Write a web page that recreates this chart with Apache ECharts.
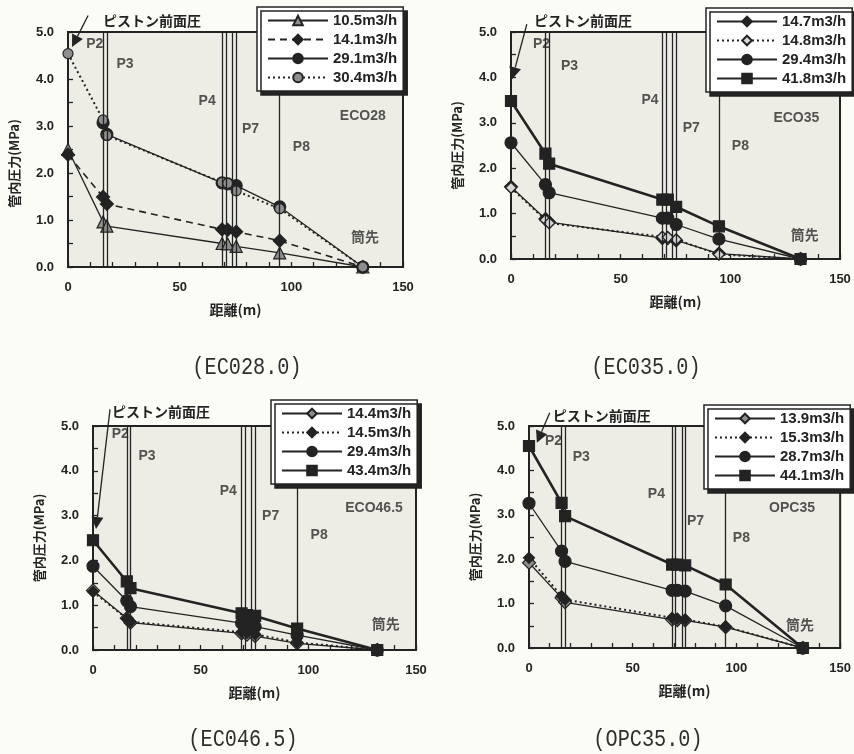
<!DOCTYPE html>
<html>
<head>
<meta charset="utf-8">
<script src="https://cdn.jsdelivr.net/npm/echarts@6/dist/echarts.min.js"></script>
<style>
  html, body { margin: 0; padding: 0; background: #fcfcf7; }
  #chart { width: 854px; height: 754px; }
</style>
</head>
<body>
<div id="chart"></div>
<script>
// Gauge positions along the pipeline (m)
const distances = [0, 15.7, 17.4, 69, 71.5, 75.3, 94.8, 132];
// Pipe section boundaries drawn as vertical lines (m)
const sectionLines = [15.7, 17.4, 69, 70.7, 73.7, 75.3, 94.8];
const yTickLabels = ['0.0', '1.0', '2.0', '3.0', '4.0', '5.0'];
const xTickLabels = ['0', '50', '100', '150'];

// ECO28 — pressure in pipe (MPa)
const eco28Names = ['10.5m3/h', '14.1m3/h', '29.1m3/h', '30.4m3/h'];
const eco28_105 = [2.50, 0.96, 0.87, 0.50, 0.49, 0.44, 0.30, 0];
const eco28_141 = [2.39, 1.49, 1.34, 0.80, 0.79, 0.75, 0.56, 0];
const eco28_291 = [null, 3.07, 2.82, 1.79, 1.77, 1.73, 1.28, 0];
const eco28_304 = [4.54, 3.13, 2.80, 1.80, 1.78, 1.62, 1.24, 0];

// ECO35
const eco35Names = ['14.7m3/h', '14.8m3/h', '29.4m3/h', '41.8m3/h'];
const eco35_147 = [1.59, 0.88, 0.81, 0.46, 0.46, 0.41, 0.12, 0];
const eco35_148 = [1.57, 0.86, 0.79, 0.49, 0.48, 0.43, 0.10, 0];
const eco35_294 = [2.56, 1.64, 1.46, 0.90, 0.90, 0.76, 0.44, 0];
const eco35_418 = [3.48, 2.32, 2.10, 1.31, 1.31, 1.15, 0.72, 0];

// ECO46.5
const eco465Names = ['14.4m3/h', '14.5m3/h', '29.4m3/h', '43.4m3/h'];
const eco465_144 = [1.33, 0.71, 0.61, 0.37, 0.34, 0.31, 0.15, 0];
const eco465_145 = [1.30, 0.70, 0.63, 0.40, 0.38, 0.35, 0.17, 0];
const eco465_294 = [1.87, 1.10, 0.97, 0.60, 0.56, 0.52, 0.33, 0];
const eco465_434 = [2.45, 1.53, 1.38, 0.82, 0.78, 0.76, 0.48, 0];

// OPC35
const opc35Names = ['13.9m3/h', '15.3m3/h', '28.7m3/h', '44.1m3/h'];
const opc35_139 = [1.92, 1.13, 1.03, 0.64, 0.63, 0.62, 0.47, 0];
const opc35_153 = [2.03, 1.17, 1.09, 0.68, 0.66, 0.64, 0.48, 0];
const opc35_287 = [3.26, 2.18, 1.95, 1.30, 1.30, 1.28, 0.95, 0];
const opc35_441 = [4.55, 3.27, 2.97, 1.88, 1.88, 1.86, 1.43, 0];

// Section labels inside each plot: [x, y, text]
const eco28Labels = [[12, 4.75, 'P2'], [25.5, 4.32, 'P3'], [62.3, 3.53, 'P4'], [81.7, 2.93, 'P7'], [104.5, 2.54, 'P8'], [132, 3.2, 'ECO28'], [133, 0.61, '筒先']];
const eco35Labels = [[13.9, 4.73, 'P2'], [26.7, 4.25, 'P3'], [63.4, 3.51, 'P4'], [82.2, 2.89, 'P7'], [104.6, 2.49, 'P8'], [130.1, 3.11, 'ECO35'], [133.9, 0.5, '筒先']];
const eco465Labels = [[12.7, 4.81, 'P2'], [25.1, 4.33, 'P3'], [62.8, 3.54, 'P4'], [82.5, 2.99, 'P7'], [105, 2.57, 'P8'], [130.5, 3.17, 'ECO46.5'], [136, 0.56, '筒先']];
const opc35Labels = [[11.8, 4.66, 'P2'], [25.2, 4.29, 'P3'], [61.4, 3.46, 'P4'], [80.3, 2.86, 'P7'], [102.4, 2.48, 'P8'], [126.8, 3.16, 'OPC35'], [130.7, 0.49, '筒先']];

// "ピストン前面圧" callout: arrow from / to, text anchor (data coords)
const pistonArrowFrom = [[9, 5.35], [7.2, 5.17], [7.9, 5.37], [10, 5.3]];
const pistonArrowTo = [[1.8, 4.68], [0.5, 3.96], [1.4, 2.70], [3.8, 4.62]];
const pistonTextAt = [[15.7, 5.24], [10.5, 5.24], [8.8, 5.32], [11.4, 5.23]];
const pistonText = 'ピストン前面圧';
const captions = ['(EC028.0)', '(EC035.0)', '(EC046.5)', '(OPC35.0)'];

const DARK = '#232323';
const GREY = '#8e8e8e';
const LIGHT = '#d8d8d8';
const SANS = '"Liberation Sans", Arial, sans-serif';
const JP = '"Noto Sans CJK JP", sans-serif';

// marker + line look for each series kind
const looks = {
  triGrey:   { symbol: 'triangle', fill: GREY, size: 12, line: 'solid', width: 1.3 },
  diaDash:   { symbol: 'diamond', fill: DARK, size: 13, line: [7, 5], width: 1.6 },
  dotSolid:  { symbol: 'circle', fill: DARK, size: 12, line: 'solid', width: 1.3 },
  dotGreyDotted: { symbol: 'circle', fill: GREY, size: 10, line: [2, 3], width: 2 },
  diaSolid:  { symbol: 'diamond', fill: DARK, size: 13, line: 'solid', width: 1.3 },
  diaLightDotted: { symbol: 'diamond', fill: LIGHT, size: 11, line: [2, 3], width: 2 },
  diaGreySolid: { symbol: 'diamond', fill: GREY, size: 13, line: 'solid', width: 1.3 },
  diaDarkDotted: { symbol: 'diamond', fill: DARK, size: 11, line: [2, 3], width: 2 },
  sqThick:   { symbol: 'rect', fill: DARK, size: 11, line: 'solid', width: 2.6 }
};

const panels = [
  { names: eco28Names, values: [eco28_105, eco28_141, eco28_291, eco28_304],
    kinds: ['triGrey', 'diaDash', 'dotSolid', 'dotGreyDotted'], labels: eco28Labels,
    grid: { left: 68, top: 32, width: 335, height: 235 }, legend: { left: 257, top: 7 },
    yNamePad: [0, 28, 0, 0], caption: [247, 368] },
  { names: eco35Names, values: [eco35_147, eco35_148, eco35_294, eco35_418],
    kinds: ['diaSolid', 'diaLightDotted', 'dotSolid', 'sqThick'], labels: eco35Labels,
    grid: { left: 511, top: 32, width: 329, height: 227 }, legend: { left: 706, top: 8 },
    yNamePad: [0, 0, 0, 0], caption: [646, 368] },
  { names: eco465Names, values: [eco465_144, eco465_145, eco465_294, eco465_434],
    kinds: ['diaGreySolid', 'diaDarkDotted', 'dotSolid', 'sqThick'], labels: eco465Labels,
    grid: { left: 93, top: 426, width: 323, height: 224 }, legend: { left: 271, top: 400 },
    yNamePad: [0, 0, 0, 0], caption: [243, 740] },
  { names: opc35Names, values: [opc35_139, opc35_153, opc35_287, opc35_441],
    kinds: ['diaGreySolid', 'diaDarkDotted', 'dotSolid', 'sqThick'], labels: opc35Labels,
    grid: { left: 529, top: 426, width: 315, height: 222 }, legend: { left: 704, top: 405 },
    yNamePad: [0, 0, 0, 0], caption: [648, 740] }
];

const option = {
  animation: false,
  backgroundColor: '#fcfcf7',
  grid: [], xAxis: [], yAxis: [], legend: [], series: []
};

panels.forEach((p, i) => {
  option.grid.push(Object.assign({
    show: true, backgroundColor: '#eeede5', borderColor: DARK, borderWidth: 2
  }, p.grid));

  option.xAxis.push({
    gridIndex: i, type: 'value', min: 0, max: 150, interval: 50,
    name: '距離(m)', nameLocation: 'middle', nameGap: 36,
    nameTextStyle: { fontFamily: JP, fontWeight: 'bold', fontSize: 14, color: DARK },
    axisLine: { lineStyle: { color: DARK, width: 2 } },
    axisTick: { show: true, inside: true, length: 5, lineStyle: { color: DARK, width: 1.3 } },
    minorTick: { show: true, splitNumber: 5, length: 5, lineStyle: { color: DARK, width: 1.3 } },
    splitLine: { show: false },
    axisLabel: {
      margin: 14, fontFamily: SANS, fontWeight: 'bold', fontSize: 13, color: DARK,
      formatter: v => xTickLabels[Math.round(v / 50)]
    }
  });

  option.yAxis.push({
    gridIndex: i, type: 'value', min: 0, max: 5, interval: 1,
    name: '管内圧力(MPa)', nameLocation: 'middle', nameGap: 47,
    nameTextStyle: { fontFamily: JP, fontWeight: 'bold', fontSize: 13, color: DARK, padding: p.yNamePad },
    axisLine: { lineStyle: { color: DARK, width: 2 } },
    axisTick: { show: true, inside: true, length: 5, lineStyle: { color: DARK, width: 1.3 } },
    minorTick: { show: true, splitNumber: 2, length: 5, lineStyle: { color: DARK, width: 1.3 } },
    splitLine: { show: false },
    axisLabel: {
      margin: 14, fontFamily: SANS, fontWeight: 'bold', fontSize: 13, color: DARK,
      formatter: v => yTickLabels[Math.round(v)]
    }
  });

  option.legend.push({
    orient: 'vertical', left: p.legend.left, top: p.legend.top,
    data: p.names, selectedMode: false,
    itemWidth: 60, itemHeight: 12, itemGap: 4,
    padding: [6, 6, 6, 10],
    backgroundColor: '#ffffff', borderColor: DARK, borderWidth: 1.5,
    shadowColor: DARK, shadowBlur: 0, shadowOffsetX: 4, shadowOffsetY: 4,
    textStyle: { fontFamily: SANS, fontWeight: 'bold', fontSize: 15, color: DARK },
    z: 10
  });

  // Section labels and boundary lines
  option.series.push({
    type: 'scatter', xAxisIndex: i, yAxisIndex: i, silent: true, z: 3,
    symbolSize: 0,
    data: p.labels.map(l => ({ value: [l[0], l[1]], name: l[2] })),
    label: {
      show: true, position: 'inside', formatter: '{b}',
      fontFamily: SANS + ', ' + JP, fontWeight: 'bold', fontSize: 14, color: '#2a2a2a'
    },
    markLine: {
      silent: true, symbol: ['none', 'none'], label: { show: false },
      lineStyle: { color: DARK, width: 1.3, type: 'solid' },
      emphasis: { disabled: true },
      data: sectionLines.map(v => ({ xAxis: v }))
    }
  });

  p.names.forEach((name, k) => {
    const look = looks[p.kinds[k]];
    const pts = [];
    p.values[k].forEach((v, j) => { if (v !== null) pts.push([distances[j], v]); });
    option.series.push({
      type: 'line', name: name, xAxisIndex: i, yAxisIndex: i, z: 4,
      data: pts,
      symbol: look.symbol, symbolSize: look.size,
      itemStyle: { color: look.fill, borderColor: DARK, borderWidth: 1.2 },
      lineStyle: { color: DARK, width: look.width, type: look.line },
      emphasis: { disabled: true }
    });
  });
});

const chart = echarts.init(document.getElementById('chart'));
chart.setOption(option);

// Callout arrows, callout text and captions placed through each grid's scales
const graphics = [];
panels.forEach((p, i) => {
  const s = chart.convertToPixel({ gridIndex: i }, pistonArrowFrom[i]);
  const e = chart.convertToPixel({ gridIndex: i }, pistonArrowTo[i]);
  const t = chart.convertToPixel({ gridIndex: i }, pistonTextAt[i]);
  const dx = e[0] - s[0], dy = e[1] - s[1];
  const len = Math.sqrt(dx * dx + dy * dy);
  const ux = dx / len, uy = dy / len;
  const head = 12, half = 6;
  const bx = e[0] - ux * head, by = e[1] - uy * head;
  graphics.push({
    type: 'line', z: 20, silent: true,
    shape: { x1: s[0], y1: s[1], x2: bx, y2: by },
    style: { stroke: DARK, lineWidth: 1.3 }
  });
  graphics.push({
    type: 'polygon', z: 20, silent: true,
    shape: { points: [[e[0], e[1]], [bx - uy * half, by + ux * half], [bx + uy * half, by - ux * half]] },
    style: { fill: DARK }
  });
  graphics.push({
    type: 'text', z: 20, silent: true, x: t[0], y: t[1],
    style: { text: pistonText, font: 'bold 14px ' + JP, fill: DARK, textAlign: 'left', textVerticalAlign: 'middle' }
  });
  graphics.push({
    type: 'text', z: 20, silent: true, x: p.caption[0], y: p.caption[1], scaleX: 0.88,
    style: { text: captions[i], font: '23px "Liberation Mono", monospace', fill: '#2e2e2e', textAlign: 'center', textVerticalAlign: 'middle' }
  });
});
chart.setOption({ graphic: graphics });
</script>
</body>
</html>
